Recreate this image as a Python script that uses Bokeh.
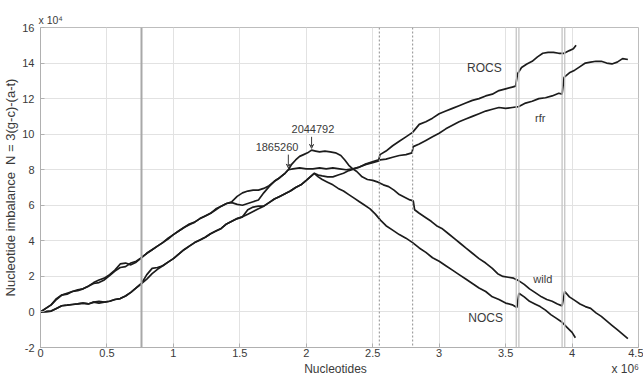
from bokeh.plotting import figure
from bokeh.models import Span, Arrow, VeeHead, FixedTicker, ColumnDataSource, Title, LinearAxis
from bokeh.embed import file_html
from bokeh.resources import INLINE
from bokeh.core.properties import value

# ---------------- data (x in 1e6 nucleotides, y in 1e4) ----------------
upper_x = [0, .04, .08, .12, .16, .20, .24, .28, .32, .36, .40, .44, .48, .52, .56, .60, .64, .68, .72, .76,
           .80, .84, .88, .92, .96, 1.00, 1.04, 1.08, 1.12, 1.16, 1.20, 1.24, 1.28, 1.32, 1.36, 1.40, 1.44, 1.48, 1.52, 1.56,
           1.60, 1.64, 1.68, 1.72, 1.76, 1.80, 1.84, 1.865]
wild_early = [0, .2, .4, .75, .95, 1.05, 1.15, 1.25, 1.3, 1.45, 1.65, 1.8, 1.9, 2.1, 2.35, 2.7, 2.75, 2.65, 2.8, 3.05,
              3.3, 3.5, 3.7, 3.9, 4.15, 4.35, 4.55, 4.75, 4.95, 5.05, 5.25, 5.4, 5.55, 5.8, 5.95, 6.1, 6.2, 6.5, 6.7, 6.8,
              6.85, 6.85, 6.95, 7.1, 7.35, 7.55, 7.8, 8.0]
rfr_early = [0, .2, .4, .7, .95, 1.0, 1.15, 1.2, 1.3, 1.45, 1.6, 1.65, 1.8, 2.05, 2.3, 2.5, 2.55, 2.75, 2.85, 3.05,
             3.3, 3.5, 3.7, 3.9, 4.1, 4.35, 4.55, 4.75, 4.9, 5.05, 5.25, 5.4, 5.55, 5.75, 5.95, 6.1, 6.15, 6.05, 6.0, 6.1,
             6.2, 6.3, 6.7, 7.05, 7.35, 7.55, 7.8, 8.0]

lower_x = [0, .04, .08, .12, .16, .20, .24, .28, .32, .36, .40, .44, .48, .52, .56, .60, .64, .68, .72, .76,
           .80, .84, .88, .92, .96, 1.00, 1.04, 1.08, 1.12, 1.16, 1.20, 1.24, 1.28, 1.32, 1.36, 1.40, 1.44, 1.48, 1.52, 1.56,
           1.60, 1.64, 1.68, 1.72, 1.76, 1.80, 1.84, 1.88, 1.92, 1.96, 2.00, 2.03, 2.06]
rocs_early = [0, .02, .05, .2, .35, .38, .42, .45, .5, .45, .55, .5, .55, .6, .7, .75, .9, 1.1, 1.35, 1.6,
              1.85, 2.15, 2.4, 2.6, 2.8, 3.0, 3.25, 3.5, 3.7, 3.9, 4.05, 4.2, 4.4, 4.55, 4.7, 4.95, 5.1, 5.25, 5.35, 5.5,
              5.65, 5.8, 5.95, 6.15, 6.35, 6.5, 6.65, 6.8, 7.0, 7.15, 7.4, 7.6, 7.8]
nocs_early = [0, .02, .05, .2, .35, .38, .42, .45, .5, .45, .55, .6, .55, .6, .7, .75, .9, 1.1, 1.35, 1.6,
              2.1, 2.45, 2.5, 2.6, 2.8, 3.0, 3.25, 3.5, 3.7, 3.9, 4.05, 4.2, 4.4, 4.55, 4.7, 4.95, 5.1, 5.25, 5.35, 5.75,
              5.9, 5.95, 5.95, 6.15, 6.35, 6.5, 6.65, 6.8, 7.0, 7.15, 7.4, 7.6, 7.8]

wild_tail_x = [1.89, 1.92, 1.95, 1.98, 2.01, 2.04, 2.07, 2.10, 2.14, 2.18, 2.22, 2.26, 2.29, 2.32, 2.35, 2.38, 2.42, 2.46,
               2.50, 2.54, 2.58, 2.62, 2.66, 2.70, 2.74, 2.78, 2.805, 2.815, 2.85, 2.90, 2.94, 2.98, 3.02, 3.07, 3.12,
               3.16, 3.20, 3.25, 3.30, 3.35, 3.40, 3.44, 3.48, 3.52, 3.56, 3.60, 3.64, 3.68, 3.72, 3.77, 3.81, 3.85,
               3.89, 3.925, 3.945, 3.98, 4.02, 4.06, 4.10, 4.14, 4.18, 4.22, 4.26, 4.30, 4.34, 4.38, 4.42]
wild_tail_y = [8.3, 8.55, 8.75, 8.85, 8.95, 9.1, 9.05, 9.0, 9.05, 9.0, 8.95, 8.8, 8.55, 8.25, 8.05, 7.9, 7.6, 7.45,
               7.4, 7.3, 7.15, 7.05, 6.85, 6.6, 6.45, 6.3, 6.25, 5.75, 5.55, 5.3, 5.1, 4.85, 4.7, 4.4, 4.1,
               3.85, 3.6, 3.3, 3.0, 2.75, 2.45, 2.15, 2.0, 1.95, 1.9, 1.75, 1.55, 1.3, 1.1, 0.85, 0.7, 0.6,
               0.45, 0.34, 1.15, 0.85, 0.65, 0.45, 0.3, 0.2, -0.05, -0.25, -0.5, -0.75, -1.0, -1.25, -1.5]

rfr_tail_x = [1.90, 1.95, 2.00, 2.05, 2.10, 2.15, 2.20, 2.25, 2.30, 2.35, 2.40, 2.45, 2.50, 2.545, 2.555, 2.60, 2.65,
              2.70, 2.75, 2.795, 2.805, 2.85, 2.90, 2.95, 3.00, 3.05, 3.10, 3.15, 3.20, 3.25, 3.30, 3.35, 3.40, 3.45,
              3.50, 3.55, 3.60, 3.65, 3.70, 3.75, 3.80, 3.85, 3.90, 3.925, 3.94, 3.98, 4.02, 4.06, 4.10, 4.14, 4.18,
              4.22, 4.26, 4.30, 4.34, 4.38, 4.42]
rfr_tail_y = [8.05, 8.1, 8.05, 8.05, 8.1, 8.05, 8.1, 8.05, 8.0, 8.05, 8.15, 8.3, 8.4, 8.5, 8.55, 8.6, 8.7,
              8.8, 8.85, 8.95, 9.3, 9.45, 9.65, 9.85, 10.05, 10.3, 10.5, 10.7, 10.85, 11.0, 11.15, 11.3, 11.4, 11.5,
              11.45, 11.5, 11.55, 11.75, 11.85, 12.0, 12.05, 12.15, 12.3, 12.25, 13.2, 13.45, 13.6, 13.8, 14.0, 14.05, 14.1,
              14.1, 14.0, 13.95, 14.05, 14.25, 14.2]

rocs_tail_x = [2.09, 2.12, 2.16, 2.20, 2.24, 2.28, 2.32, 2.36, 2.40, 2.44, 2.48, 2.52, 2.545, 2.555, 2.60, 2.65, 2.70,
               2.75, 2.80, 2.85, 2.90, 2.95, 3.00, 3.05, 3.10, 3.15, 3.20, 3.25, 3.30, 3.35, 3.40, 3.45, 3.50, 3.55,
               3.575, 3.59, 3.62, 3.66, 3.70, 3.74, 3.78, 3.82, 3.86, 3.90, 3.94, 3.98, 4.01, 4.03]
rocs_tail_y = [7.7, 7.65, 7.6, 7.6, 7.7, 7.8, 7.95, 8.05, 8.15, 8.3, 8.4, 8.5, 8.55, 8.85, 9.05, 9.35, 9.6,
               9.85, 10.1, 10.55, 10.7, 10.9, 11.15, 11.3, 11.45, 11.6, 11.75, 11.9, 12.0, 12.15, 12.25, 12.45, 12.55, 12.65,
               12.7, 13.4, 13.75, 13.95, 14.1, 14.35, 14.55, 14.6, 14.6, 14.55, 14.55, 14.7, 14.8, 15.0]

nocs_tail_x = [2.09, 2.12, 2.16, 2.20, 2.24, 2.28, 2.32, 2.36, 2.40, 2.44, 2.48, 2.52, 2.56, 2.60, 2.65, 2.70, 2.75,
               2.80, 2.85, 2.90, 2.95, 3.00, 3.05, 3.10, 3.15, 3.20, 3.25, 3.30, 3.35, 3.40, 3.45, 3.50, 3.55, 3.585,
               3.60, 3.64, 3.68, 3.72, 3.76, 3.80, 3.84, 3.88, 3.92, 3.96, 4.00, 4.025]
nocs_tail_y = [7.6, 7.45, 7.3, 7.15, 6.95, 6.8, 6.6, 6.4, 6.2, 6.0, 5.8, 5.5, 5.15, 4.85, 4.6, 4.35, 4.15,
               3.9, 3.6, 3.35, 3.05, 2.85, 2.6, 2.35, 2.1, 1.85, 1.6, 1.35, 1.15, 0.85, 0.7, 0.5, 0.4, 0.25,
               1.05, 0.85, 0.6, 0.45, 0.3, 0.1, -0.15, -0.35, -0.55, -0.85, -1.15, -1.45]

x_ticks = [0, 0.5, 1, 1.5, 2, 2.5, 3, 3.5, 4, 4.5]
x_tick_labels = ["0", "0.5", "1", "1.5", "2", "2.5", "3", "3.5", "4", "4.5"]
y_ticks = [-2, 0, 2, 4, 6, 8, 10, 12, 14, 16]
y_tick_labels = ["-2", "0", "2", "4", "6", "8", "10", "12", "14", "16"]

x_title = "Nucleotides"
x_multiplier = "x 10\u2076"
y_multiplier = "x 10\u2074"
y_title = "Nucleotide imbalance\u00a0\u00a0N = 3(g-c)-(a-t)"
x_title_pos = [2.22, 4.40]

marker_solid = [0.76]
marker_dashed = [2.55, 2.80]
marker_thin = [3.58, 3.60, 3.925, 3.945]

series_names = ["ROCS", "rfr", "wild", "NOCS"]
series_label_x = [3.34, 3.76, 3.78, 3.35]
series_label_y = [13.75, 10.9, 1.85, -0.35]
series_label_size = ["12px", "11px", "11px", "12px"]

point_names = ["1865260", "2044792"]
point_x = [1.865, 2.04]
point_y = [8.0, 9.1]
point_label_x = [1.78, 2.05]
point_label_y = [9.05, 10.05]

FONT = "Liberation Sans"
TXT = "#3a3a3a"
LINE = "#1c1c1c"
AX = "#b0b0b0"

p = figure(width=643, height=381, x_range=(0, 4.5), y_range=(-2, 16),
           output_backend="svg", toolbar_location=None,
           min_border_left=39, min_border_right=5, min_border_top=27, min_border_bottom=34)
p.background_fill_color = "white"
p.border_fill_color = "white"
p.outline_line_color = "#bdbdbd"

xt = FixedTicker(ticks=x_ticks)
yt = FixedTicker(ticks=y_ticks)
p.xaxis.ticker = xt
p.yaxis.ticker = yt
p.xgrid.ticker = xt
p.ygrid.ticker = yt
p.xaxis.major_label_overrides = dict(zip(x_ticks, x_tick_labels))
p.yaxis.major_label_overrides = dict(zip(y_ticks, y_tick_labels))
for ax in (p.xaxis, p.yaxis):
    ax.major_label_text_font = FONT
    ax.major_label_text_font_size = "11px"
    ax.major_label_text_color = TXT
    ax.axis_label_text_font = FONT
    ax.axis_label_text_font_style = "normal"
    ax.axis_label_text_color = TXT
    ax.axis_line_color = AX
    ax.major_tick_line_color = AX
    ax.major_tick_out = 0
    ax.major_tick_in = 4
    ax.minor_tick_line_color = None
p.xaxis.axis_label = None
p.xaxis.major_label_standoff = 1
p.yaxis.axis_label = y_title
p.yaxis.axis_label_text_font_size = "13px"
p.yaxis.axis_label_standoff = 1
p.yaxis.major_label_standoff = 6

# second, bare axis row carrying the x title and the x multiplier
ax2 = LinearAxis(ticker=FixedTicker(ticks=x_title_pos),
                 major_label_overrides={x_title_pos[0]: x_title, x_title_pos[1]: x_multiplier})
ax2.axis_line_color = None
ax2.major_tick_line_color = None
ax2.minor_tick_line_color = None
ax2.major_tick_in = 0
ax2.major_tick_out = 0
ax2.major_label_standoff = 2
ax2.major_label_text_font = FONT
ax2.major_label_text_font_size = "12px"
ax2.major_label_text_color = TXT
p.add_layout(ax2, "below")

p.add_layout(Title(text=y_multiplier, align="left", text_font=FONT, text_font_size="10.5px",
                   text_font_style="normal", text_color=TXT, standoff=3, offset=-2), "above")

p.xgrid.grid_line_color = "#e2e2e2"
p.ygrid.grid_line_color = "#e2e2e2"

for loc in marker_solid:
    p.add_layout(Span(location=loc, dimension="height", line_color="#a8a8a8", line_width=2))
for loc in marker_dashed:
    p.add_layout(Span(location=loc, dimension="height", line_color="#a0a0a0", line_width=1.2, line_dash="2 2"))
for loc in marker_thin:
    p.add_layout(Span(location=loc, dimension="height", line_color="#c4c4c4", line_width=1.3))

curves = [
    (upper_x + wild_tail_x, wild_early + wild_tail_y),
    (upper_x + rfr_tail_x, rfr_early + rfr_tail_y),
    (lower_x + rocs_tail_x, rocs_early + rocs_tail_y),
    (lower_x + nocs_tail_x, nocs_early + nocs_tail_y),
]
for xs, ys in curves:
    p.line(xs, ys, line_color=LINE, line_width=1.7)

lab_src = ColumnDataSource(dict(x=series_label_x, y=series_label_y, t=series_names, s=series_label_size))
p.text(x="x", y="y", text="t", source=lab_src, text_font=value(FONT), text_font_size="s",
       text_color=TXT, text_align="center", text_baseline="middle")

pt_src = ColumnDataSource(dict(x=point_label_x, y=point_label_y, t=point_names))
p.text(x="x", y="y", text="t", source=pt_src, text_font=value(FONT), text_font_size="11px",
       text_color=TXT, text_align="center", text_baseline="bottom")
for px_, py_, ly in zip(point_x, point_y, point_label_y):
    p.add_layout(Arrow(x_start=px_, y_start=ly - 0.2, x_end=px_, y_end=py_ + 0.1,
                       line_color=TXT, line_width=1,
                       end=VeeHead(size=4, line_color=TXT, line_width=1, fill_color=None)))

open("out.html", "w").write(file_html(p, INLINE))
